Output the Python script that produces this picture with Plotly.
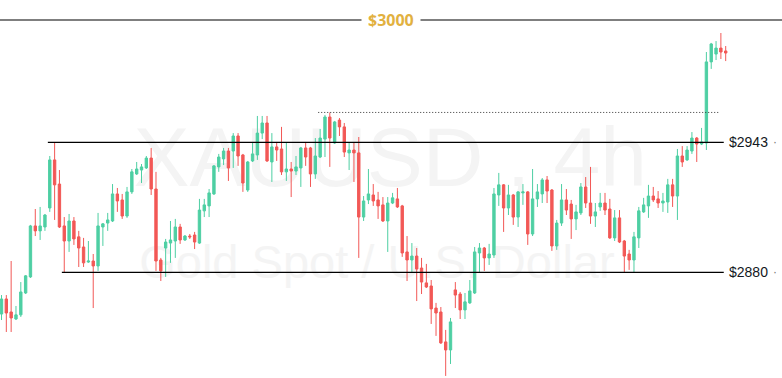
import plotly.graph_objects as go

# ---------------- data (XAUUSD, 4h candles) ----------------
opens = [2859.8, 2867.1, 2860.8, 2857.4, 2859.4, 2870.0, 2877.8, 2902.5, 2900.1, 2902.0,
         2911.2, 2934.5, 2922.8, 2902.5, 2895.2, 2904.9, 2897.2, 2892.3, 2885.0, 2885.5,
         2883.1, 2902.0, 2903.9, 2904.9, 2918.0, 2915.1, 2907.3, 2919.0, 2927.7, 2929.6,
         2930.6, 2935.4, 2920.4, 2886.0, 2891.8, 2894.2, 2895.2, 2902.0, 2895.7, 2897.6,
         2898.1, 2894.2, 2909.8, 2912.2, 2918.0, 2931.1, 2935.0, 2938.8, 2938.8, 2946.1,
         2936.9, 2919.9, 2934.0, 2936.9, 2947.5, 2952.4, 2933.5, 2940.8, 2939.8, 2928.7,
         2930.1, 2929.1, 2930.6, 2940.3, 2940.3, 2927.7, 2935.9, 2944.6, 2955.3, 2942.7,
         2953.8, 2950.5, 2937.9, 2939.3, 2937.9, 2906.8, 2915.1, 2917.5, 2915.1, 2912.7,
         2904.9, 2913.6, 2915.6, 2912.2, 2889.9, 2886.0, 2887.9, 2882.1, 2874.9, 2873.4,
         2862.7, 2860.8, 2846.3, 2842.4, 2871.5, 2869.5, 2861.8, 2865.2, 2870.0, 2889.4,
         2891.8, 2887.0, 2888.4, 2917.5, 2922.4, 2911.2, 2917.5, 2906.8, 2918.5, 2919.0,
         2898.6, 2915.6, 2918.0, 2924.8, 2919.9, 2892.8, 2903.9, 2915.1, 2913.1, 2905.9,
         2908.8, 2921.4, 2913.6, 2907.3, 2911.7, 2913.6, 2910.7, 2896.7, 2906.4, 2895.2,
         2888.9, 2886.0, 2896.7, 2909.3, 2912.2, 2917.0, 2915.6, 2913.6, 2914.1, 2922.4,
         2917.0, 2936.4, 2934.5, 2938.8, 2945.1, 2942.2, 2942.7, 2982.0, 2985.8, 2988.7,
         2987.3]

highs = [2869.0, 2869.0, 2885.5, 2863.7, 2875.3, 2878.7, 2903.0, 2910.7, 2911.7, 2908.3,
         2936.4, 2943.0, 2929.6, 2906.8, 2908.3, 2906.8, 2900.1, 2896.7, 2895.2, 2888.9,
         2908.8, 2903.9, 2908.8, 2922.8, 2920.9, 2918.0, 2921.4, 2930.1, 2933.5, 2932.5,
         2936.4, 2940.3, 2928.7, 2887.0, 2896.2, 2904.9, 2905.9, 2903.5, 2898.1, 2898.6,
         2899.6, 2915.6, 2915.6, 2920.4, 2932.0, 2937.4, 2940.3, 2940.3, 2947.5, 2947.5,
         2937.4, 2934.0, 2943.2, 2955.8, 2955.8, 2955.8, 2947.5, 2943.2, 2950.5, 2942.7,
         2933.5, 2936.4, 2940.8, 2943.2, 2940.8, 2945.1, 2949.5, 2956.3, 2957.5, 2953.4,
         2954.8, 2952.4, 2942.7, 2942.7, 2945.6, 2917.0, 2930.1, 2922.8, 2919.0, 2916.5,
         2916.5, 2918.5, 2920.9, 2912.7, 2897.6, 2894.2, 2891.8, 2887.0, 2884.1, 2876.3,
         2865.2, 2863.2, 2852.1, 2857.9, 2875.3, 2870.5, 2870.0, 2876.3, 2892.3, 2894.2,
         2892.3, 2893.8, 2920.9, 2928.2, 2922.8, 2922.4, 2918.0, 2919.4, 2922.8, 2919.4,
         2930.1, 2922.8, 2925.7, 2926.7, 2920.4, 2905.4, 2922.8, 2920.4, 2915.1, 2912.7,
         2923.3, 2926.2, 2931.1, 2913.6, 2918.5, 2918.5, 2915.6, 2910.2, 2910.2, 2895.7,
         2890.9, 2899.6, 2911.7, 2916.1, 2922.4, 2921.4, 2919.4, 2918.5, 2925.3, 2925.3,
         2939.8, 2941.2, 2941.2, 2948.0, 2945.6, 2950.0, 2986.8, 2991.2, 2992.1, 2996.0,
         2989.7]

lows = [2856.9, 2851.1, 2851.1, 2856.9, 2858.4, 2869.5, 2877.3, 2897.6, 2895.7, 2900.1,
        2909.3, 2905.4, 2901.5, 2880.0, 2889.9, 2893.3, 2882.6, 2882.6, 2884.6, 2862.7,
        2880.7, 2892.8, 2900.1, 2904.4, 2909.3, 2905.9, 2906.4, 2918.0, 2927.2, 2923.3,
        2930.1, 2917.5, 2880.7, 2875.8, 2877.8, 2884.6, 2887.0, 2893.8, 2895.2, 2896.2,
        2891.3, 2893.8, 2906.8, 2906.8, 2917.5, 2928.7, 2932.0, 2924.3, 2930.6, 2931.6,
        2919.0, 2919.0, 2933.5, 2934.5, 2944.6, 2933.5, 2923.8, 2934.0, 2927.2, 2924.3,
        2916.5, 2927.2, 2921.4, 2931.6, 2921.4, 2925.3, 2935.4, 2935.9, 2931.1, 2942.2,
        2946.1, 2935.9, 2929.6, 2923.8, 2887.0, 2904.9, 2913.1, 2912.2, 2905.9, 2904.4,
        2889.9, 2913.1, 2911.2, 2887.5, 2875.8, 2880.2, 2866.1, 2869.5, 2872.4, 2855.0,
        2849.2, 2845.3, 2829.8, 2835.6, 2862.7, 2857.4, 2857.4, 2864.7, 2869.5, 2880.2,
        2880.7, 2883.6, 2887.0, 2912.2, 2899.6, 2907.8, 2903.0, 2902.0, 2912.7, 2893.3,
        2897.6, 2911.7, 2913.6, 2913.6, 2890.4, 2890.9, 2902.5, 2907.8, 2896.2, 2900.5,
        2907.8, 2911.2, 2903.5, 2902.0, 2909.8, 2907.8, 2896.2, 2895.2, 2894.2, 2879.7,
        2881.2, 2879.7, 2891.8, 2908.8, 2906.4, 2914.1, 2911.2, 2909.3, 2908.8, 2911.7,
        2905.4, 2931.1, 2934.0, 2937.4, 2933.5, 2941.7, 2939.3, 2978.6, 2982.9, 2983.4,
        2982.4]

closes = [2867.1, 2860.3, 2857.9, 2859.4, 2870.5, 2878.3, 2902.5, 2900.1, 2902.5, 2907.8,
          2934.5, 2922.4, 2902.0, 2895.2, 2904.9, 2896.2, 2891.8, 2884.6, 2885.5, 2883.1,
          2902.5, 2903.5, 2905.4, 2918.0, 2914.6, 2907.3, 2919.0, 2928.7, 2930.1, 2931.1,
          2935.4, 2920.4, 2885.5, 2880.7, 2894.7, 2895.7, 2902.0, 2895.7, 2897.6, 2897.2,
          2894.7, 2910.2, 2912.7, 2918.5, 2931.6, 2935.9, 2938.8, 2930.6, 2946.1, 2936.4,
          2923.3, 2933.5, 2937.4, 2947.5, 2952.4, 2934.0, 2940.8, 2939.3, 2928.7, 2930.1,
          2929.1, 2931.1, 2940.3, 2935.9, 2927.7, 2936.4, 2945.1, 2955.3, 2945.1, 2952.9,
          2950.5, 2938.3, 2939.3, 2937.9, 2906.8, 2914.6, 2918.0, 2914.6, 2912.2, 2904.9,
          2913.6, 2916.1, 2911.7, 2889.4, 2886.0, 2887.9, 2881.6, 2875.3, 2872.9, 2862.3,
          2860.3, 2845.8, 2842.4, 2856.0, 2869.0, 2861.8, 2865.7, 2871.0, 2889.9, 2891.8,
          2887.0, 2888.9, 2918.0, 2922.4, 2911.2, 2917.5, 2906.8, 2919.0, 2919.0, 2898.6,
          2915.6, 2919.0, 2924.8, 2919.4, 2892.8, 2903.9, 2915.1, 2910.2, 2905.9, 2909.3,
          2921.4, 2913.6, 2907.3, 2909.3, 2913.6, 2910.2, 2896.7, 2906.4, 2894.7, 2887.9,
          2886.0, 2897.2, 2909.8, 2912.7, 2917.0, 2915.1, 2913.6, 2914.6, 2922.4, 2917.0,
          2936.4, 2933.5, 2939.3, 2945.1, 2942.2, 2943.2, 2982.0, 2990.7, 2988.7, 2986.8,
          2986.3]

bar_index = list(range(len(opens)))

level_values = [3002.3, 2943.0, 2880.0]
level_labels = ["$3000", "$2943", "$2880"]
prev_high = 2957.5

title_text = "XAUUSD , 4h"
subtitle_text = "Gold Spot / U.S. Dollar"

# ---------------- styling ----------------
GREEN = "#4ecfa3"
RED = "#f25856"
GOLD = "#e2b13f"
WM = "#f4f4f4"

fig = go.Figure()
fig.add_trace(go.Candlestick(
    x=bar_index, open=opens, high=highs, low=lows, close=closes,
    increasing=dict(line=dict(color=GREEN, width=1), fillcolor=GREEN),
    decreasing=dict(line=dict(color=RED, width=1), fillcolor=RED),
    whiskerwidth=0, showlegend=False, hoverinfo="skip",
))

shapes = [
    # watermark (drawn under candles via shape labels)
    dict(type="rect", xref="paper", yref="paper", x0=0, x1=0.998, y0=0.50, y1=0.71,
         line=dict(width=0), fillcolor="rgba(0,0,0,0)", layer="below",
         label=dict(text=title_text, textposition="middle center",
                    font=dict(family="Liberation Sans", size=84, color=WM))),
    dict(type="rect", xref="paper", yref="paper", x0=0, x1=0.964, y0=0.22, y1=0.42,
         line=dict(width=0), fillcolor="rgba(0,0,0,0)", layer="below",
         label=dict(text=subtitle_text, textposition="middle center",
                    font=dict(family="Liberation Sans", size=47, color=WM))),
    # $3000 line across the whole chart
    dict(type="line", xref="paper", yref="y", x0=0, x1=1,
         y0=level_values[0], y1=level_values[0], line=dict(color="#000000", width=1.2)),
    # support / resistance lines
    dict(type="line", xref="x", yref="y", x0=9.6, x1=149.6,
         y0=level_values[1], y1=level_values[1], line=dict(color="#000000", width=1.2)),
    dict(type="line", xref="x", yref="y", x0=12.5, x1=149.6,
         y0=level_values[2], y1=level_values[2], line=dict(color="#000000", width=1.2)),
    # dotted previous-high line
    dict(type="line", xref="x", yref="y", x0=65.6, x1=148.5,
         y0=prev_high, y1=prev_high, line=dict(color="#333333", width=1, dash="1px,2px")),
]

annotations = [
    dict(text="<b>%s</b>" % level_labels[0], xref="paper", yref="y", x=391 / 782, y=level_values[0],
         showarrow=False, xanchor="center", yanchor="middle", bgcolor="#ffffff", borderpad=6,
         font=dict(family="Open Sans", size=16, color=GOLD)),
]
for v, lab in zip(level_values[1:], level_labels[1:]):
    annotations.append(dict(text=lab, xref="paper", yref="y", x=727 / 782, y=v, showarrow=False,
                            xanchor="left", yanchor="middle",
                            font=dict(family="Liberation Sans", size=14, color="#131722")))
    annotations.append(dict(text="·", xref="paper", yref="y", x=775 / 782, y=v, showarrow=False,
                            xanchor="center", yanchor="middle",
                            font=dict(family="Liberation Sans", size=12, color="#777777")))

fig.update_layout(
    width=782, height=378,
    margin=dict(l=0, r=0, t=0, b=0),
    paper_bgcolor="#ffffff", plot_bgcolor="#ffffff",
    xaxis=dict(visible=False, range=[-0.31, 161.66], rangeslider=dict(visible=False),
               fixedrange=True),
    yaxis=dict(visible=False, range=[2828.8, 3012.0], fixedrange=True),
    shapes=shapes,
    annotations=annotations,
    showlegend=False,
)

fig.write_html("out.html", config={"displayModeBar": False},
               post_script="document.body.style.margin='0';document.body.style.padding='0';")
